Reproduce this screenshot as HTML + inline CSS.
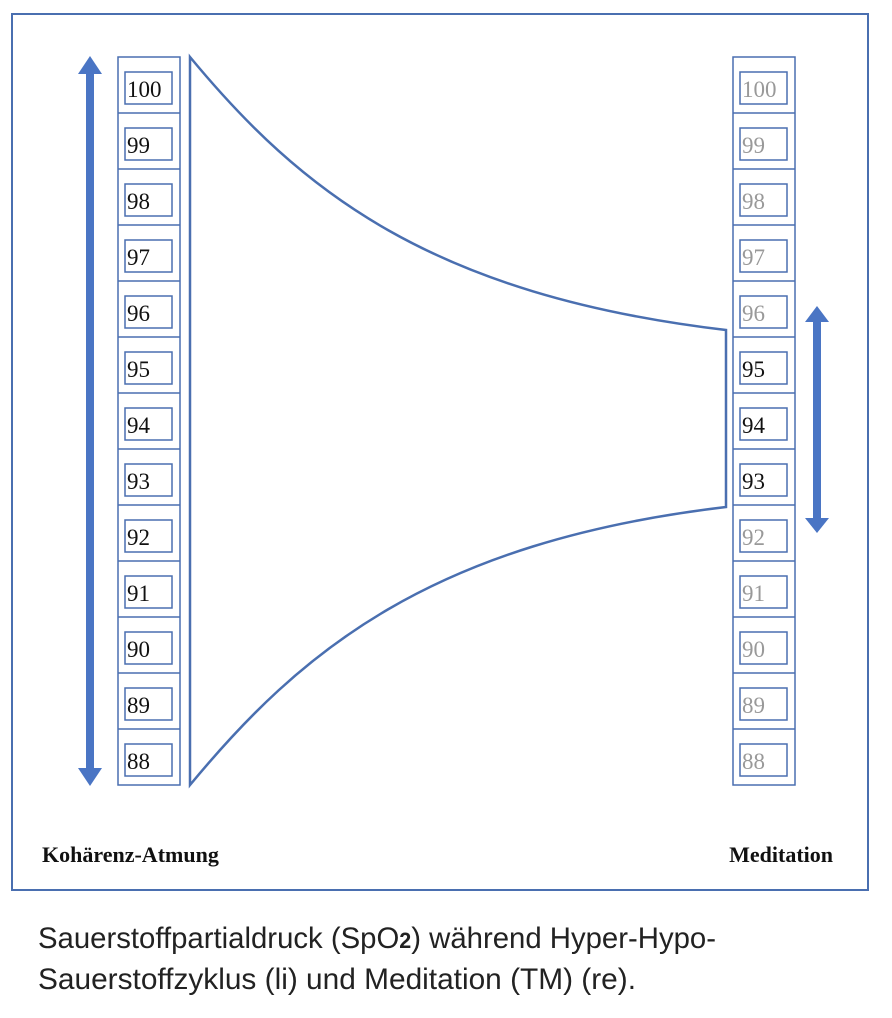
<!DOCTYPE html>
<html><head><meta charset="utf-8"><style>
html,body{margin:0;padding:0;background:#fff;width:892px;height:1018px;overflow:hidden}
svg{display:block}
</style></head><body>
<svg width="892" height="1018" viewBox="0 0 892 1018" xmlns="http://www.w3.org/2000/svg">
<rect x="12" y="14" width="856" height="876" fill="#fff" stroke="#4a6fb0" stroke-width="2"/>
<g font-family="Liberation Serif, serif" font-size="23">
<rect x="118" y="57" width="62" height="728" fill="none" stroke="#4a6fb0" stroke-width="1.5"/>
<g stroke="#4a6fb0" stroke-width="1.5">
<line x1="118" y1="113" x2="180" y2="113"/><line x1="118" y1="169" x2="180" y2="169"/><line x1="118" y1="225" x2="180" y2="225"/><line x1="118" y1="281" x2="180" y2="281"/><line x1="118" y1="337" x2="180" y2="337"/><line x1="118" y1="393" x2="180" y2="393"/><line x1="118" y1="449" x2="180" y2="449"/><line x1="118" y1="505" x2="180" y2="505"/><line x1="118" y1="561" x2="180" y2="561"/><line x1="118" y1="617" x2="180" y2="617"/><line x1="118" y1="673" x2="180" y2="673"/><line x1="118" y1="729" x2="180" y2="729"/>
</g>
<g fill="none" stroke="#4a6fb0" stroke-width="1.5">
<rect x="125" y="72" width="47" height="32"/><rect x="125" y="128" width="47" height="32"/><rect x="125" y="184" width="47" height="32"/><rect x="125" y="240" width="47" height="32"/><rect x="125" y="296" width="47" height="32"/><rect x="125" y="352" width="47" height="32"/><rect x="125" y="408" width="47" height="32"/><rect x="125" y="464" width="47" height="32"/><rect x="125" y="520" width="47" height="32"/><rect x="125" y="576" width="47" height="32"/><rect x="125" y="632" width="47" height="32"/><rect x="125" y="688" width="47" height="32"/><rect x="125" y="744" width="47" height="32"/>
</g>
<g fill="#111">
<text x="127" y="97">100</text><text x="127" y="153">99</text><text x="127" y="209">98</text><text x="127" y="265">97</text><text x="127" y="321">96</text><text x="127" y="377">95</text><text x="127" y="433">94</text><text x="127" y="489">93</text><text x="127" y="545">92</text><text x="127" y="601">91</text><text x="127" y="657">90</text><text x="127" y="713">89</text><text x="127" y="769">88</text>
</g>
<rect x="733" y="57" width="62" height="728" fill="none" stroke="#4a6fb0" stroke-width="1.5"/>
<g stroke="#4a6fb0" stroke-width="1.5">
<line x1="733" y1="113" x2="795" y2="113"/><line x1="733" y1="169" x2="795" y2="169"/><line x1="733" y1="225" x2="795" y2="225"/><line x1="733" y1="281" x2="795" y2="281"/><line x1="733" y1="337" x2="795" y2="337"/><line x1="733" y1="393" x2="795" y2="393"/><line x1="733" y1="449" x2="795" y2="449"/><line x1="733" y1="505" x2="795" y2="505"/><line x1="733" y1="561" x2="795" y2="561"/><line x1="733" y1="617" x2="795" y2="617"/><line x1="733" y1="673" x2="795" y2="673"/><line x1="733" y1="729" x2="795" y2="729"/>
</g>
<g fill="none" stroke="#4a6fb0" stroke-width="1.5">
<rect x="740" y="72" width="47" height="32"/><rect x="740" y="128" width="47" height="32"/><rect x="740" y="184" width="47" height="32"/><rect x="740" y="240" width="47" height="32"/><rect x="740" y="296" width="47" height="32"/><rect x="740" y="352" width="47" height="32"/><rect x="740" y="408" width="47" height="32"/><rect x="740" y="464" width="47" height="32"/><rect x="740" y="520" width="47" height="32"/><rect x="740" y="576" width="47" height="32"/><rect x="740" y="632" width="47" height="32"/><rect x="740" y="688" width="47" height="32"/><rect x="740" y="744" width="47" height="32"/>
</g>
<g fill="#999">
<text x="742" y="97">100</text><text x="742" y="153">99</text><text x="742" y="209">98</text><text x="742" y="265">97</text><text x="742" y="321">96</text><text x="742" y="545">92</text><text x="742" y="601">91</text><text x="742" y="657">90</text><text x="742" y="713">89</text><text x="742" y="769">88</text>
</g>
<g fill="#111"><text x="742" y="377">95</text><text x="742" y="433">94</text><text x="742" y="489">93</text></g>
</g>
<path d="M190,57 C300,190 430,295 726,330 L726,507 C430,542 300,652 190,785 Z" fill="none" stroke="#4a6fb0" stroke-width="2.5"/>
<g fill="#4a75c4">
<rect x="86" y="72" width="8" height="698"/>
<polygon points="78,74 90,56 102,74"/>
<polygon points="78,768 90,786 102,768"/>
<rect x="813" y="320" width="8" height="200"/>
<polygon points="805,322 817,306 829,322"/>
<polygon points="805,518 817,533 829,518"/>
</g>
<g font-family="Liberation Serif, serif" font-weight="bold" font-size="22" fill="#111">
<text x="42" y="862">Kohärenz-Atmung</text>
<text x="833" y="862" text-anchor="end">Meditation</text>
</g>
<g font-family="Liberation Sans, sans-serif" font-size="30" fill="#222">
<text x="38" y="948" textLength="678" lengthAdjust="spacingAndGlyphs">Sauerstoffpartialdruck (SpO<tspan font-weight="bold" font-size="22">2</tspan>) während Hyper-Hypo-</text>
<text x="38" y="989" textLength="598" lengthAdjust="spacingAndGlyphs">Sauerstoffzyklus (li) und Meditation (TM) (re).</text>
</g>
</svg>
</body></html>
